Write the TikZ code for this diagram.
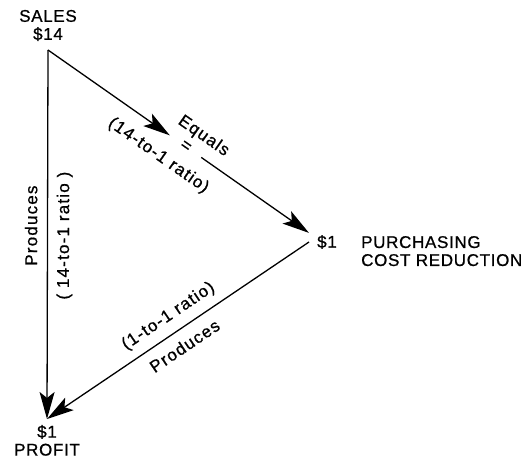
\documentclass[tikz,border=0pt]{standalone}
\usepackage{fontspec}
\setmainfont{Liberation Sans}
\newfontfamily\lettering[LetterSpace=7,FakeBold=0.8]{Liberation Sans}
\newfontfamily\capsfont[LetterSpace=4,FakeBold=0.8]{Liberation Sans}
\usetikzlibrary{arrows.meta}
\usetikzlibrary{positioning}

\begin{document}
\begin{tikzpicture}[x=1pt,y=-1pt] %% sales, purchasing, profit
	\tikzstyle{caps}=[font=\capsfont\fontsize{17}{18}\selectfont, align=center, inner sep=2pt]
	\tikzstyle{lbl}=[font=\lettering\fontsize{17}{18}\selectfont, inner sep=0pt, sloped]
	\tikzstyle{arr}=[line width=1.3pt, -{Stealth[length=27pt,width=15pt,inset=6pt]}]
	\useasboundingbox (0,0) rectangle (521,463);
	\node[caps, anchor=south, outer sep=7pt] (sales) at (48,50) {SALES\\\$14};
	\node[caps, anchor=west, inner xsep=8pt] (purch) at (309,242) {\$1};
	\node[caps, align=left, inner sep=0pt, anchor=north west] (purchtxt) at ([xshift=16pt,yshift=-3pt]purch.north east) {PURCHASING\\COST REDUCTION};
	\node[caps, anchor=north, outer sep=4pt] (profit) at (47,419) {\$1\\PROFIT};
	% sales to purchasing, broken by the = sign
	\path (sales.south) -- (purch.north west)
		node[lbl, pos=.527, minimum width=38pt] (eq) {=}
		node[lbl, pos=.555, above=10.5pt] (equals) {Equals}
		node[lbl, pos=.474, below=15pt] (ratioa) {(14-to-1 ratio)};
	\draw[arr] (sales.south) -- (eq.west);
	\draw[arr] (eq.east) -- (purch.north west);
	% sales to profit
	\draw[arr] (sales.south) -- (profit.north);
	\path (profit.north) -- (sales.south)
		node[lbl, pos=.524, above=10pt] (prodb) {Produces}
		node[lbl, pos=.497, below=9pt] (ratiob) {( 14-to-1 ratio )};
	% purchasing to profit
	\draw[arr] (purch.west) -- (profit.north);
	\path (profit.north) -- (purch.west)
		node[lbl, pos=.5, above=9pt] (ratioc) {(1-to-1 ratio)}
		node[lbl, pos=.49, below=10pt] (prodc) {Produces};
\end{tikzpicture}
\end{document}
